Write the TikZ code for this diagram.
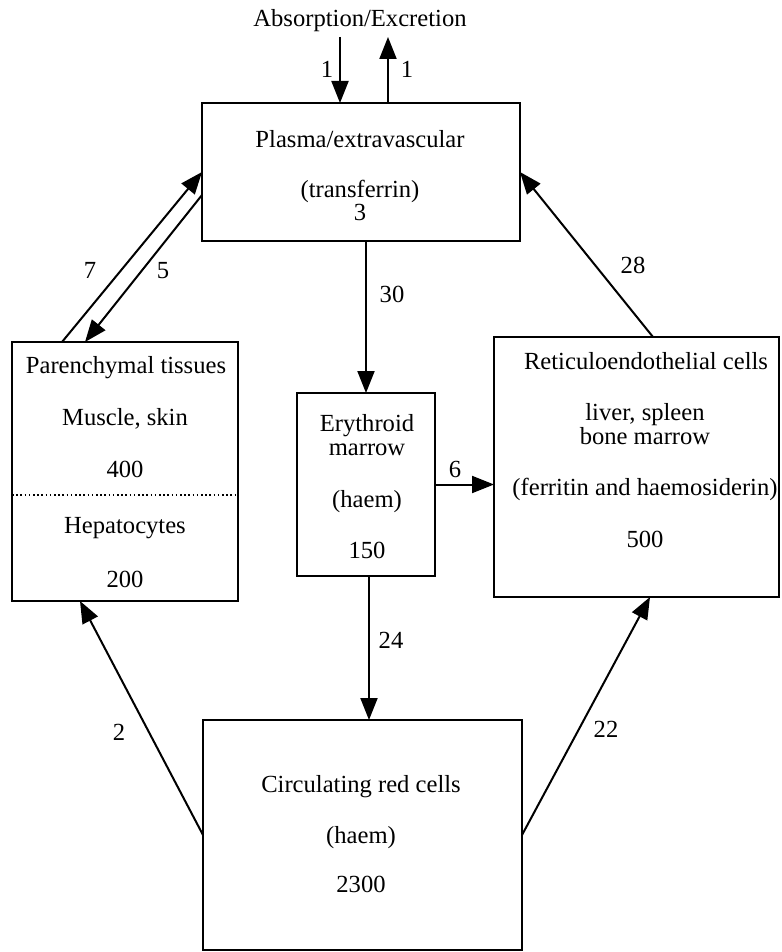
\documentclass[tikz,border=0pt]{standalone}
\usepackage{fontspec}
\setmainfont{Liberation Serif}
\usetikzlibrary{arrows.meta}
\begin{document}
\begin{tikzpicture}[x=1pt,y=-1pt,
  box/.style={draw, line width=2pt, inner sep=0pt, outer sep=0pt},
  lbl/.style={font=\fontsize{24.6}{28}\selectfont, inner sep=0pt, anchor=base},
  flow/.style={line width=2pt, -{Triangle[length=22pt,width=17pt]}},
  sepline/.style={line width=1.3pt, dash pattern=on 1.6pt off 2.6pt}
]
\useasboundingbox (0,0) rectangle (781,952);

% boxes
\node[box, minimum width=318pt, minimum height=138pt] (plasma) at (361,172) {};
\node[box, minimum width=226pt, minimum height=259pt] (paren) at (125,471.5) {};
\node[box, minimum width=138pt, minimum height=183pt] (ery) at (366,484.5) {};
\node[box, minimum width=285pt, minimum height=260pt] (reti) at (636.5,467) {};
\node[box, minimum width=319pt, minimum height=230pt] (circ) at (362.5,835) {};

% texts
\node[lbl] (tabs) at (360,27) {Absorption/Excretion};
\node[lbl] (tin) at (327,78) {1};
\node[lbl] (tout) at (407,78) {1};

\node[lbl] (tp1) at (360,148) {Plasma/extravascular};
\node[lbl] (tp2) at (360,197) {(transferrin)};
\node[lbl] (tp3) at (360,220) {3};

\node[lbl] (t7) at (90,278) {7};
\node[lbl] (t5) at (163,278) {5};
\node[lbl] (t30) at (392,302) {30};
\node[lbl] (t28) at (633,273) {28};

\node[lbl] (tpa1) at (126,373) {Parenchymal tissues};
\node[lbl] (tpa2) at (125,425) {Muscle, skin};
\node[lbl] (tpa3) at (125,477) {400};
\node[lbl] (tpa4) at (125,533) {Hepatocytes};
\node[lbl] (tpa5) at (125,587) {200};

\node[lbl] (te1) at (367,431) {Erythroid};
\node[lbl] (te2) at (367,455) {marrow};
\node[lbl] (te3) at (367,507) {(haem)};
\node[lbl] (te4) at (367,558) {150};
\node[lbl] (t6) at (455,477) {6};

\node[lbl] (tr1) at (646,369) {Reticuloendothelial cells};
\node[lbl] (tr2) at (645,420) {liver, spleen};
\node[lbl] (tr3) at (645,444) {bone marrow};
\node[lbl] (tr4) at (645,495) {(ferritin and haemosiderin)};
\node[lbl] (tr5) at (645,547) {500};

\node[lbl] (t24) at (391,648) {24};
\node[lbl] (t2) at (119,740) {2};
\node[lbl] (t22) at (606,737) {22};

\node[lbl] (tc1) at (361,792) {Circulating red cells};
\node[lbl] (tc2) at (361,843) {(haem)};
\node[lbl] (tc3) at (361,892) {2300};

% free ends of the absorption / excretion arrows
\coordinate (absin) at (340,37);
\coordinate (absout) at (388,37);

% dotted separator
\draw[sepline] ([yshift=-23.5pt]paren.west) -- ([yshift=-23.5pt]paren.east);

% connectors
\draw[flow] (absin) -- (absin |- plasma.north);
\draw[flow] (absout |- plasma.north) -- (absout);
\draw[flow] ([xshift=-63pt]paren.north) -- (plasma.west);
\draw[flow] ([yshift=-23pt]plasma.west) -- ([xshift=-40pt]paren.north);
\draw[flow] (ery.north |- plasma.south) -- (ery.north);
\draw[flow] ([xshift=16.5pt]reti.north) -- (plasma.east);
\draw[flow] (ery.east) -- (reti.west |- ery.east);
\draw[flow] ([xshift=3pt]ery.south) -- ([xshift=3pt]ery.south |- circ.north);
\draw[flow] (circ.west) -- ([xshift=-45pt]paren.south);
\draw[flow] (circ.east) -- ([xshift=13.5pt]reti.south);
\end{tikzpicture}
\end{document}
